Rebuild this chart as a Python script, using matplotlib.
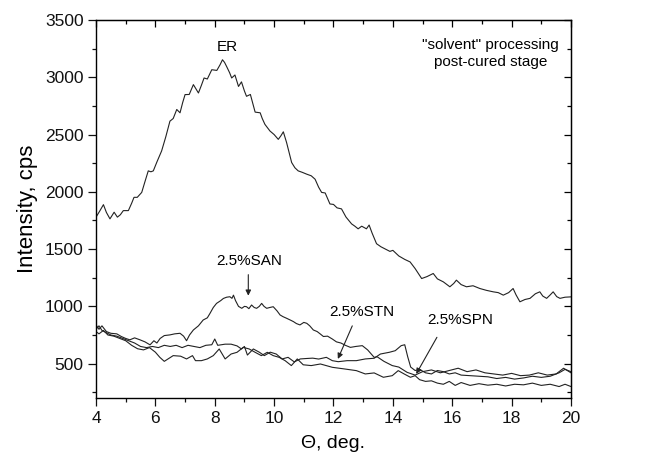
import matplotlib
matplotlib.use("Agg")
import matplotlib.pyplot as plt
from matplotlib.ticker import MultipleLocator

plt.rcParams['font.family'] = ['Liberation Sans', 'DejaVu Sans']

er_x = [4.0, 4.12, 4.25, 4.35, 4.47, 4.61, 4.72, 4.82, 4.92, 5.09, 5.2, 5.28, 5.39, 5.54, 5.65, 5.76, 5.85, 5.93,
        6.05, 6.21, 6.35, 6.49, 6.6, 6.72, 6.83, 6.92, 7.0, 7.14, 7.28, 7.45, 7.55, 7.64, 7.75, 7.9, 8.07, 8.18,
        8.26, 8.33, 8.4, 8.5, 8.57, 8.68, 8.8, 8.9, 9.0, 9.07, 9.2, 9.36, 9.53, 9.6, 9.69, 9.86, 10.0, 10.14,
        10.23, 10.31, 10.42, 10.59, 10.7, 10.81, 10.95, 11.1, 11.25, 11.38, 11.5, 11.6, 11.72, 11.88, 12.0,
        12.12, 12.27, 12.42, 12.61, 12.72, 12.83, 12.95, 13.11, 13.2, 13.3, 13.45, 13.6, 13.75, 13.9, 14.0,
        14.2, 14.4, 14.58, 14.75, 14.97, 15.15, 15.36, 15.5, 15.7, 15.92, 16.05, 16.14, 16.3, 16.48, 16.7,
        16.93, 17.15, 17.38, 17.55, 17.72, 17.9, 18.05, 18.15, 18.28, 18.45, 18.62, 18.8, 18.95, 19.05,
        19.18, 19.3, 19.4, 19.52, 19.63, 19.8, 20.0]
er_y = [1779, 1830, 1888, 1820, 1764, 1822, 1779, 1800, 1836, 1836, 1900, 1952, 1952, 1995, 2090, 2183, 2175, 2183,
        2260, 2357, 2480, 2617, 2640, 2719, 2690, 2780, 2849, 2850, 2936, 2863, 2930, 2994, 2985, 3066, 3060, 3110,
        3153, 3130, 3094, 3040, 2994, 3020, 2920, 2960, 2880, 2834, 2850, 2696, 2690, 2640, 2589, 2531, 2500, 2458,
        2490, 2524, 2430, 2256, 2210, 2183, 2170, 2154, 2140, 2110, 2040, 1995, 1990, 1894, 1890,
        1860, 1851, 1780, 1720, 1700, 1677, 1700, 1677, 1710, 1640, 1547, 1520, 1500, 1480, 1489,
        1440, 1410, 1388, 1330, 1243, 1260, 1287, 1240, 1214, 1171, 1200, 1229, 1190, 1171, 1180,
        1156, 1140, 1127, 1120, 1098, 1120, 1156, 1100, 1040, 1060, 1070, 1110, 1127, 1090,
        1070, 1100, 1127, 1085, 1070, 1080, 1083]

san_x = [4.0, 4.1, 4.2, 4.35, 4.5, 4.7, 4.85, 5.0, 5.14, 5.3, 5.48, 5.65, 5.82, 5.95, 6.05, 6.16, 6.3, 6.49, 6.65,
         6.83, 6.95, 7.05, 7.15, 7.28, 7.45, 7.61, 7.75, 7.84, 7.95, 8.06, 8.2, 8.29, 8.4, 8.51, 8.58, 8.63, 8.7,
         8.8, 8.91, 9.0, 9.07, 9.15, 9.24, 9.33, 9.41, 9.5, 9.58, 9.66, 9.75, 9.85, 9.97, 10.1, 10.2, 10.3, 10.42,
         10.55, 10.65, 10.75, 10.87, 11.0, 11.1, 11.2, 11.32, 11.45, 11.55, 11.66, 11.8, 11.96, 12.1, 12.25,
         12.4, 12.57, 12.75, 12.97, 13.15, 13.37, 13.47, 13.7, 13.98, 14.2, 14.48, 14.75, 15.0, 15.3, 15.6,
         15.9, 16.2, 16.5, 16.8, 17.1, 17.4, 17.7, 18.0, 18.3, 18.6, 18.9, 19.2, 19.5, 19.75, 20.0]
san_y = [838, 800, 830, 780, 765, 760, 737, 720, 708, 725, 708, 690, 664, 700, 680, 720, 745, 751, 760,
         765, 740, 700, 750, 794, 830, 881, 900, 939, 990, 1026, 1050, 1069, 1080, 1084, 1070, 1098, 1050,
         1000, 983, 1000, 997, 980, 1012, 990, 983, 1000, 1026, 1000, 983, 990, 997, 960, 925, 910, 896,
         880, 867, 850, 838, 860, 852, 830, 794, 780, 760, 737, 740, 715, 690, 680,
         660, 642, 650, 657, 620, 555, 560, 520, 483, 470, 424, 400, 430, 445, 420,
         440, 460, 430, 445, 420, 410, 400, 415, 395, 400, 420, 400, 410, 460, 420]

stn_x = [4.0, 4.1, 4.2, 4.35, 4.5, 4.7, 4.9, 5.1, 5.3, 5.5, 5.7, 5.9, 6.1, 6.3, 6.5, 6.7, 6.9, 7.1, 7.3, 7.5,
         7.7, 7.9, 8.0, 8.1, 8.35, 8.55, 8.75, 8.9, 9.0, 9.1, 9.3, 9.5, 9.67, 9.87, 10.07, 10.27, 10.47, 10.68,
         10.88, 11.1, 11.3, 11.5, 11.76, 11.96, 12.16, 12.46, 12.77, 13.07, 13.37, 13.58, 13.88, 14.08, 14.28,
         14.4, 14.5, 14.6, 14.75, 14.9, 15.1, 15.3, 15.5, 15.7, 15.9, 16.1, 16.3, 16.6, 16.9, 17.2, 17.5, 17.8,
         18.1, 18.4, 18.7, 19.0, 19.3, 19.6, 19.8, 20.0]
stn_y = [800, 830, 790, 770, 750, 740, 720, 700, 680, 650, 640, 650, 640, 660, 650, 660, 640, 660, 650, 640,
         660, 665, 715, 660, 670, 670, 655, 628, 650, 575, 628, 600, 570, 600, 584, 541, 555, 515,
         541, 545, 548, 540, 555, 526, 517, 526, 526, 541, 547, 584, 599, 613, 657,
         665, 560, 470, 440, 450, 420, 410, 440, 430, 410, 420, 400, 395, 390, 385, 370, 380,
         365, 375, 390, 380, 390, 420, 450, 430]

spn_x = [4.0, 4.1, 4.25, 4.4, 4.6, 4.8, 5.0, 5.2, 5.4, 5.6, 5.8, 6.0, 6.15, 6.3, 6.45, 6.6, 6.85, 7.05, 7.25,
         7.35, 7.55, 7.75, 7.95, 8.15, 8.35, 8.55, 8.75, 8.96, 9.16, 9.36, 9.57, 9.77, 9.97, 10.17, 10.37,
         10.58, 10.78, 10.98, 11.25, 11.56, 11.96, 12.36, 12.77, 13.07, 13.37, 13.68, 13.98, 14.18, 14.38,
         14.59, 14.75, 14.9, 15.1, 15.3, 15.5, 15.7, 15.9, 16.1, 16.3, 16.6, 16.9, 17.2, 17.5, 17.8, 18.1,
         18.4, 18.7, 19.0, 19.3, 19.6, 19.8, 20.0]
spn_y = [780, 760, 790, 750, 740, 720, 700, 660, 630, 620, 640, 600, 555, 520, 545, 570, 565, 541, 570,
         526, 526, 541, 570, 628, 541, 584, 599, 642, 628, 599, 570, 599, 570, 555, 526,
         483, 541, 490, 483, 497, 468, 454, 439, 410, 419, 381, 395, 439, 410,
         381, 395, 360, 345, 350, 330, 320, 345, 310, 335, 310, 325, 312, 320, 305, 320,
         315, 330, 310, 320, 300, 320, 300]

x_ticks = [4, 6, 8, 10, 12, 14, 16, 18, 20]
y_ticks = [500, 1000, 1500, 2000, 2500, 3000, 3500]

fig = plt.figure(figsize=(6.47, 4.57), dpi=100)
ax = fig.add_axes([0.1484, 0.1291, 0.7341, 0.8271])
lc = '#222222'
for xs, ys in [(er_x, er_y), (san_x, san_y), (stn_x, stn_y), (spn_x, spn_y)]:
    ax.plot(xs, ys, color=lc, lw=0.8)

ax.set_xlim(4, 20)
ax.set_ylim(200, 3500)
ax.set_xticks(x_ticks)
ax.set_yticks(y_ticks)
ax.xaxis.set_minor_locator(MultipleLocator(1))
ax.yaxis.set_minor_locator(MultipleLocator(250))
ax.tick_params(which='both', direction='out', labelsize=12.5, width=0.9, colors='#111111')
ax.tick_params(which='major', length=5.5)
ax.tick_params(which='minor', length=3)
for s in ax.spines.values():
    s.set_linewidth(1.0)

top = ax.secondary_xaxis('top')
top.set_xticks(x_ticks)
top.xaxis.set_minor_locator(MultipleLocator(1))
top.tick_params(which='both', direction='in', labeltop=False, width=0.9)
top.tick_params(which='major', length=5)
top.tick_params(which='minor', length=3)
right = ax.secondary_yaxis('right')
right.set_yticks(y_ticks)
right.yaxis.set_minor_locator(MultipleLocator(250))
right.tick_params(which='both', direction='in', labelright=False, width=0.9)
right.tick_params(which='major', length=5)
right.tick_params(which='minor', length=3)

ax.set_xlabel('\u0398, deg.', fontsize=14, labelpad=7)
ax.set_ylabel('Intensity, cps', fontsize=16, labelpad=5)

ax.text(8.42, 3266, 'ER', ha='center', va='center', fontsize=11)
ax.text(17.3, 3208, '"solvent" processing\npost-cured stage', ha='center', va='center',
        fontsize=11, linespacing=1.25)

ax.text(9.15, 1396, '2.5%SAN', ha='center', va='center', fontsize=11)
ax.annotate('', xy=(9.13, 1069), xytext=(9.13, 1301),
            arrowprops=dict(arrowstyle='-|>', color=lc, lw=0.8, mutation_scale=8))
ax.text(12.95, 953, '2.5%STN', ha='center', va='center', fontsize=11)
ax.annotate('', xy=(12.11, 519), xytext=(12.67, 852),
            arrowprops=dict(arrowstyle='-|>', color=lc, lw=0.8, mutation_scale=8))
ax.text(16.26, 881, '2.5%SPN', ha='center', va='center', fontsize=11)
ax.annotate('', xy=(14.74, 389), xytext=(15.53, 751),
            arrowprops=dict(arrowstyle='-|>', color=lc, lw=0.8, mutation_scale=8))

fig.savefig('out.png', dpi=100)
